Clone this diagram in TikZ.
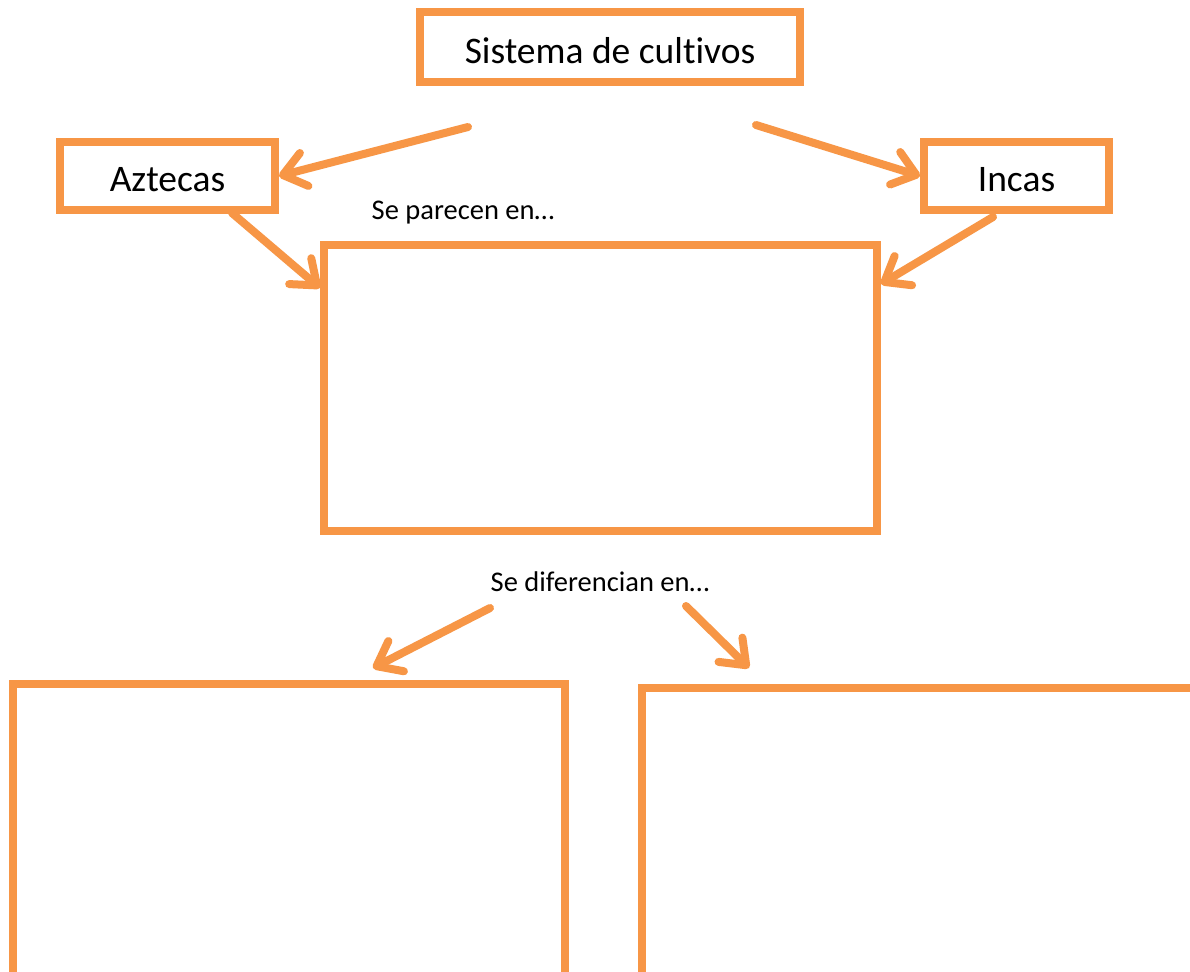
\documentclass[tikz,border=0pt]{standalone}
\usepackage{fontspec}
\setmainfont{Carlito}[Ligatures={NoCommon}]
\usetikzlibrary{arrows.meta}
\definecolor{acc}{RGB}{247,150,70}
\newcommand{\dn}[1]{\raisebox{-4pt}[\height][\depth]{#1}}
\begin{document}
\begin{tikzpicture}[x=1pt,y=-1pt,
  box/.style={draw=acc, line width=8pt, rectangle, inner sep=0pt},
  conn/.style={draw=acc, line width=8pt, line cap=round, line join=round,
    -{Straight Barb[length=22pt,width=34pt,round]}},
  big/.style={font=\fontsize{37.5}{42}\selectfont},
  small/.style={font=\fontsize{28.5}{33}\selectfont}]
\useasboundingbox (0,0) rectangle (1190,971);
\clip (0,0) rectangle (1190,971);
\fill[white] (0,0) rectangle (1190,971);
\node[box, minimum width=380pt, minimum height=70pt, big] (top) at (610,47) {\dn{Sistema de cultivos}};
\node[box, minimum width=215pt, minimum height=68pt, big] (azt) at (167.5,176) {\dn{Aztecas}};
\node[box, minimum width=185pt, minimum height=68pt, big] (inc) at (1016.5,176) {\dn{Incas}};
\node[box, minimum width=553pt, minimum height=286pt] (mid) at (600.5,388) {};
\node[box, minimum width=552pt, minimum height=330pt] (bl) at (289,849) {};
\node[box, minimum width=620pt, minimum height=330pt] (br) at (952,853) {};
\node[small] (par) at (463,213) {Se parecen en…};
\node[small] (dif) at (600,582) {Se diferencian en…};
\coordinate (s1) at (468,127);
\coordinate (s2) at (756,125);
\coordinate (s3) at (232,213);
\coordinate (s4) at (993,217);
\coordinate (s5) at (490,608);
\coordinate (s6) at (686,606);
\draw[conn] (s1) -- (azt.east);
\draw[conn] (s2) -- (inc.west);
\draw[conn] (s3) -- ([yshift=-47pt]mid.north west);
\draw[conn] (s4) -- ([yshift=-43pt]mid.north east);
\draw[conn] (s5) -- ([xshift=84pt,yshift=12pt]bl.north);
\draw[conn] (s6) -- ([xshift=111pt,yshift=16pt]br.north west);
\end{tikzpicture}
\end{document}
